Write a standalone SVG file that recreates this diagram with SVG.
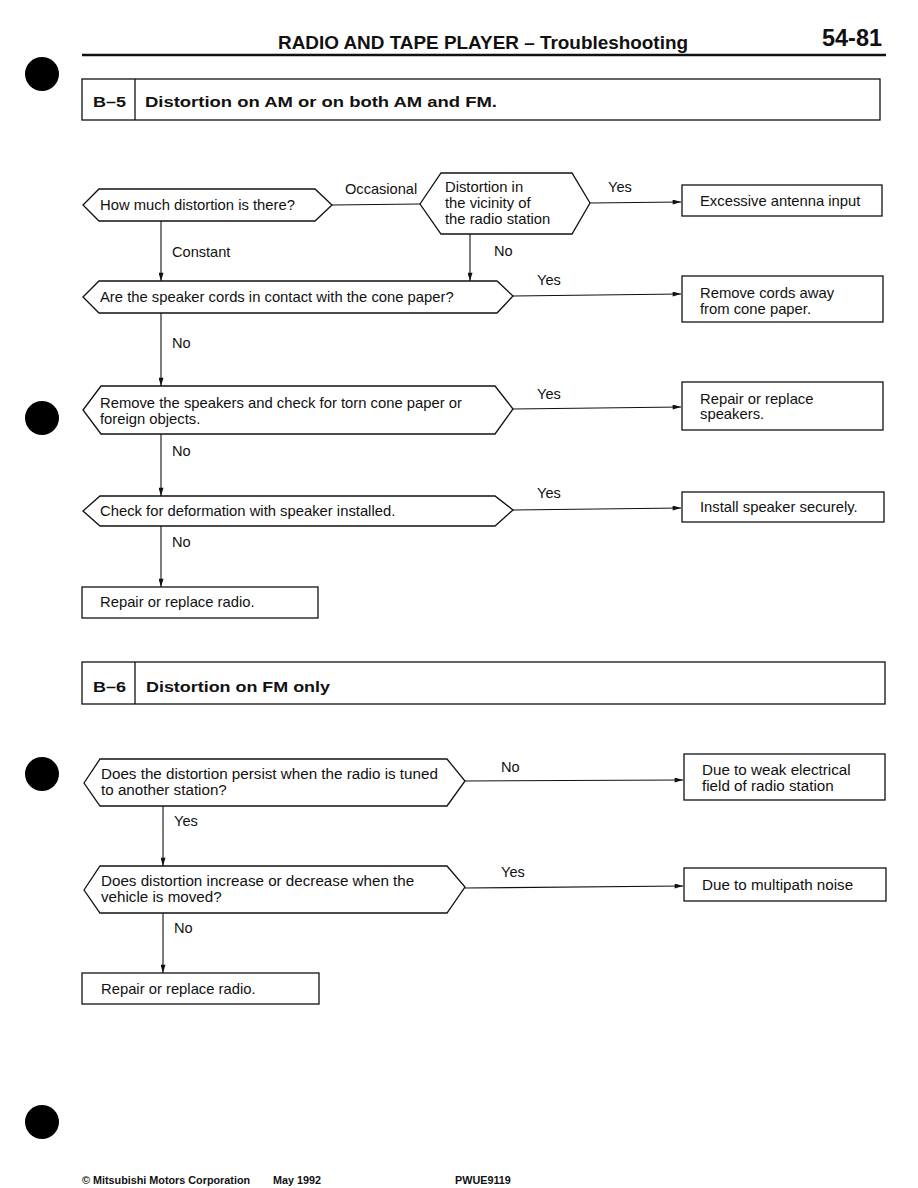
<svg xmlns="http://www.w3.org/2000/svg" width="918" height="1188" viewBox="0 0 918 1188">
<style>
  text { font-family: "Liberation Sans", Arial, sans-serif; fill: #111; }
  .t { font-size: 14.8px; }
  .t2 { font-size: 15.2px; }
  .lbl { font-size: 14.6px; }
  .hd { font-weight: bold; }
  .shape { fill: #fff; stroke: #111; stroke-width: 1.3; }
  .conn line, .conn polyline { stroke: #111; stroke-width: 1.1; fill: none; }
  .foot { font-size: 10.8px; font-weight: bold; }
</style>
<defs>
  <marker id="arr" viewBox="0 0 10 6" refX="10" refY="3" markerWidth="9" markerHeight="5" markerUnits="userSpaceOnUse" orient="auto">
    <path d="M0,0 L10,3 L0,6 Z" fill="#111"/>
  </marker>
</defs>
<rect width="918" height="1188" fill="#fff"/>

<!-- punch holes -->
<g id="holes" fill="#000">
  <circle cx="42" cy="74" r="17"/>
  <circle cx="42" cy="418" r="17"/>
  <circle cx="42" cy="774" r="17"/>
  <circle cx="42" cy="1122" r="17"/>
</g>

<!-- page header -->
<g id="header">
  <text class="hd" x="278" y="49" font-size="19" textLength="410" lengthAdjust="spacingAndGlyphs">RADIO AND TAPE PLAYER – Troubleshooting</text>
  <text class="hd" x="822" y="46" font-size="24" textLength="60" lengthAdjust="spacingAndGlyphs">54-81</text>
  <line x1="82" y1="55" x2="886" y2="55" stroke="#111" stroke-width="2.5"/>
</g>

<!-- B-5 title -->
<g id="b5-title">
  <rect class="shape" x="82" y="79" width="798" height="41"/>
  <line x1="135" y1="79" x2="135" y2="120" stroke="#111" stroke-width="1.3"/>
  <text class="hd" x="93" y="107" font-size="15" textLength="33" lengthAdjust="spacingAndGlyphs">B–5</text>
  <text class="hd" x="145" y="107" font-size="15" textLength="352" lengthAdjust="spacingAndGlyphs">Distortion on AM or on both AM and FM.</text>
</g>

<!-- connectors -->
<g id="connectors" class="conn">
  <line x1="332" y1="205" x2="420" y2="204"/>
  <line x1="590" y1="203" x2="681" y2="202" marker-end="url(#arr)"/>
  <line x1="161" y1="221" x2="161" y2="281" marker-end="url(#arr)"/>
  <line x1="470" y1="234" x2="470" y2="281" marker-end="url(#arr)"/>
  <line x1="513" y1="296" x2="681" y2="294" marker-end="url(#arr)"/>
  <line x1="161" y1="313" x2="161" y2="386" marker-end="url(#arr)"/>
  <line x1="513" y1="409" x2="681" y2="407" marker-end="url(#arr)"/>
  <line x1="161" y1="434" x2="161" y2="496" marker-end="url(#arr)"/>
  <line x1="513" y1="510" x2="681" y2="508" marker-end="url(#arr)"/>
  <line x1="161" y1="526" x2="161" y2="587" marker-end="url(#arr)"/>

  <line x1="465" y1="781" x2="683" y2="780" marker-end="url(#arr)"/>
  <line x1="163" y1="806" x2="163" y2="866" marker-end="url(#arr)"/>
  <line x1="465" y1="888" x2="683" y2="886" marker-end="url(#arr)"/>
  <line x1="163" y1="913" x2="163" y2="973" marker-end="url(#arr)"/>
</g>

<!-- connector labels -->
<g id="connector-labels" class="lbl">
  <text x="345" y="194">Occasional</text>
  <text x="608" y="192">Yes</text>
  <text x="172" y="257">Constant</text>
  <text x="494" y="256">No</text>
  <text x="537" y="285">Yes</text>
  <text x="172" y="348">No</text>
  <text x="537" y="399">Yes</text>
  <text x="172" y="456">No</text>
  <text x="537" y="498">Yes</text>
  <text x="172" y="547">No</text>
  <text x="501" y="772">No</text>
  <text x="174" y="826">Yes</text>
  <text x="501" y="877">Yes</text>
  <text x="174" y="933">No</text>
</g>

<!-- B-5 nodes -->
<g id="q-how-much">
  <polygon class="shape" points="83,205 99,189 315,189 332,205 315,221 99,221"/>
  <text class="t" x="100" y="210">How much distortion is there?</text>
</g>
<g id="q-vicinity">
  <polygon class="shape" points="420,204 441,173 572,173 590,203 572,234 441,234"/>
  <text class="t" x="445" y="192">Distortion in</text>
  <text class="t" x="445" y="208">the vicinity of</text>
  <text class="t" x="445" y="224">the radio station</text>
</g>
<g id="r-antenna">
  <rect class="shape" x="682" y="185" width="200" height="31"/>
  <text class="t" x="700" y="206">Excessive antenna input</text>
</g>
<g id="q-cords">
  <polygon class="shape" points="83,297 99,281 497,281 513,296 497,313 99,313"/>
  <text class="t" x="100" y="302">Are the speaker cords in contact with the cone paper?</text>
</g>
<g id="r-cords">
  <rect class="shape" x="682" y="276" width="201" height="46"/>
  <text class="t" x="700" y="298">Remove cords away</text>
  <text class="t" x="700" y="314">from cone paper.</text>
</g>
<g id="q-torn">
  <polygon class="shape" points="83,410 101,386 495,386 513,409 495,434 101,434"/>
  <text class="t" x="100" y="408">Remove the speakers and check for torn cone paper or</text>
  <text class="t" x="100" y="424">foreign objects.</text>
</g>
<g id="r-speakers">
  <rect class="shape" x="682" y="382" width="201" height="48"/>
  <text class="t" x="700" y="404">Repair or replace</text>
  <text class="t" x="700" y="419">speakers.</text>
</g>
<g id="q-deform">
  <polygon class="shape" points="83,511 100,496 495,496 513,510 495,526 100,526"/>
  <text class="t" x="100" y="516">Check for deformation with speaker installed.</text>
</g>
<g id="r-install">
  <rect class="shape" x="682" y="492" width="202" height="30"/>
  <text class="t" x="700" y="512">Install speaker securely.</text>
</g>
<g id="r-radio-1">
  <rect class="shape" x="82" y="587" width="236" height="31"/>
  <text class="t" x="100" y="607">Repair or replace radio.</text>
</g>

<!-- B-6 title -->
<g id="b6-title">
  <rect class="shape" x="82" y="662" width="803" height="42"/>
  <line x1="135" y1="662" x2="135" y2="704" stroke="#111" stroke-width="1.3"/>
  <text class="hd" x="93" y="692" font-size="15" textLength="33" lengthAdjust="spacingAndGlyphs">B–6</text>
  <text class="hd" x="146" y="692" font-size="15" textLength="184" lengthAdjust="spacingAndGlyphs">Distortion on FM only</text>
</g>

<!-- B-6 nodes -->
<g id="q-persist">
  <polygon class="shape" points="84,783 100,759 447,759 465,781 447,806 100,806"/>
  <text class="t2" x="101" y="779">Does the distortion persist when the radio is tuned</text>
  <text class="t2" x="101" y="795">to another station?</text>
</g>
<g id="r-weak">
  <rect class="shape" x="684" y="754" width="201" height="46"/>
  <text class="t2" x="702" y="775">Due to weak electrical</text>
  <text class="t2" x="702" y="791">field of radio station</text>
</g>
<g id="q-moved">
  <polygon class="shape" points="84,890 100,866 447,866 465,887 447,913 100,913"/>
  <text class="t2" x="101" y="886">Does distortion increase or decrease when the</text>
  <text class="t2" x="101" y="902">vehicle is moved?</text>
</g>
<g id="r-multipath">
  <rect class="shape" x="684" y="868" width="202" height="33"/>
  <text class="t2" x="702" y="890">Due to multipath noise</text>
</g>
<g id="r-radio-2">
  <rect class="shape" x="82" y="973" width="237" height="31"/>
  <text class="t" x="101" y="994">Repair or replace radio.</text>
</g>

<!-- footer -->
<g id="footer">
  <text class="foot" x="82" y="1184">© Mitsubishi Motors Corporation</text>
  <text class="foot" x="273" y="1184">May 1992</text>
  <text class="foot" x="455" y="1184">PWUE9119</text>
</g>
</svg>
